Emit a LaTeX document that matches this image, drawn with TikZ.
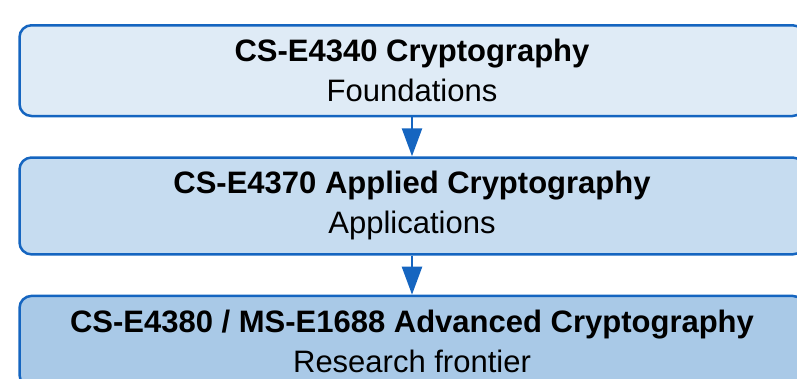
\documentclass[tikz,border=0pt]{standalone}
\usepackage{fontspec}
\setmainfont{Liberation Sans}
\usepackage{tikz}
\usetikzlibrary{positioning,arrows.meta}

\definecolor{courseblue}{RGB}{21,101,192}
\definecolor{levelone}{RGB}{223,235,246}
\definecolor{leveltwo}{RGB}{198,220,240}
\definecolor{levelthree}{RGB}{169,201,231}

\begin{document}
\begin{tikzpicture}[x=1pt,y=1pt,
    course/.style={draw=courseblue,line width=2.5pt,rounded corners=12pt,
        minimum width=785pt,inner xsep=10pt,inner ysep=14pt,align=center,
        font=\fontsize{31}{40}\selectfont},
    prereq/.style={draw=courseblue,line width=2.5pt,
        -{Triangle[length=28pt,width=20pt]}}]

            \useasboundingbox (0,0) rectangle (797,-378);

            \node[course,fill=levelone,anchor=north] (C1) at (412,-24)
                {\textbf{CS-E4340 Cryptography}\\Foundations};
            \node[course,fill=leveltwo,below=39pt of C1] (C2)
                {\textbf{CS-E4370 Applied Cryptography}\\Applications};
            \node[course,fill=levelthree,below=39pt of C2] (C3)
                {\textbf{CS-E4380 / MS-E1688 Advanced Cryptography}\\Research frontier};

            \draw[prereq] (C1) -- (C2);
            \draw[prereq] (C2) -- (C3);
        \end{tikzpicture}
\end{document}
